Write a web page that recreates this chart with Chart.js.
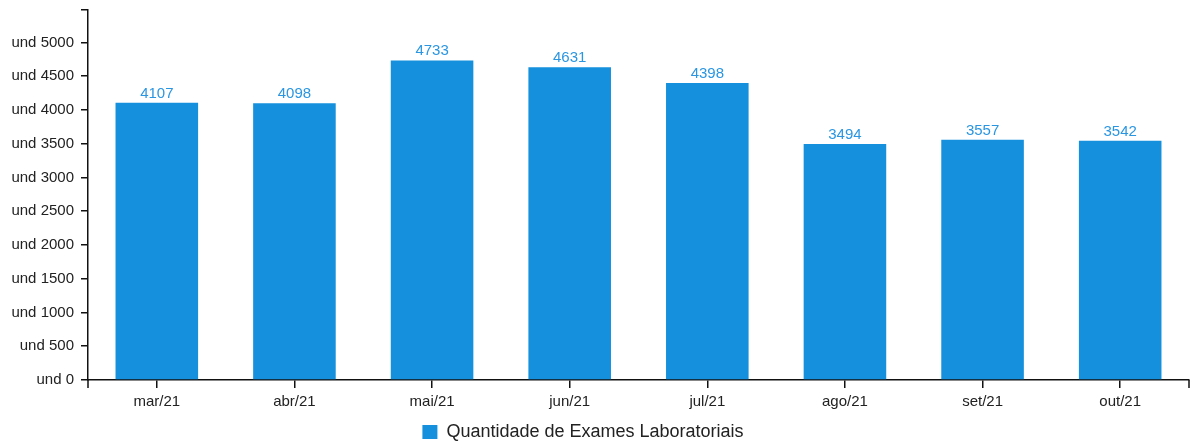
<!DOCTYPE html>
<html lang="pt">
<head>
<meta charset="utf-8">
<title>Quantidade de Exames Laboratoriais</title>
<script src="https://cdn.jsdelivr.net/npm/chart.js@4/dist/chart.umd.min.js"></script>
<style>
  html, body { margin: 0; padding: 0; background: #ffffff; }
  #wrap { width: 1192px; height: 445px; }
</style>
</head>
<body>
<div id="wrap"><canvas id="chart" width="1192" height="445"></canvas></div>
<script>
// Monthly counts of laboratory exams
const categories = ['mar/21', 'abr/21', 'mai/21', 'jun/21', 'jul/21', 'ago/21', 'set/21', 'out/21'];
const exames = [4107, 4098, 4733, 4631, 4398, 3494, 3557, 3542];
const seriesName = 'Quantidade de Exames Laboratoriais';

// Y axis: labelled ticks and the top of the scale
const yTickValues = [0, 500, 1000, 1500, 2000, 2500, 3000, 3500, 4000, 4500, 5000];
const yTickPrefix = 'und ';
const yMax = 5480;

const AXIS = '#111111';
const TEXT = '#222222';
const BAR = '#1590dc';
const LABEL = '#2a96e2';
const FONT = '"Liberation Sans", Arial, sans-serif';

// value labels above each bar
const valueLabels = {
  id: 'valueLabels',
  afterDatasetsDraw(chart) {
    const ctx = chart.ctx;
    const meta = chart.getDatasetMeta(0);
    const data = chart.data.datasets[0].data;
    ctx.save();
    ctx.font = '15px ' + FONT;
    ctx.fillStyle = LABEL;
    ctx.textAlign = 'center';
    ctx.textBaseline = 'alphabetic';
    meta.data.forEach((bar, i) => {
      ctx.fillText(String(data[i]), bar.x, bar.y - 5);
    });
    ctx.restore();
  }
};

// outer ticks at both ends of the category axis
const axisEnds = {
  id: 'axisEnds',
  afterDraw(chart) {
    const { ctx, chartArea } = chart;
    ctx.save();
    ctx.strokeStyle = AXIS;
    ctx.lineWidth = 1.5;
    ctx.beginPath();
    ctx.moveTo(chartArea.left, chartArea.bottom);
    ctx.lineTo(chartArea.left, chartArea.bottom + 8);
    ctx.moveTo(chartArea.right, chartArea.bottom);
    ctx.lineTo(chartArea.right, chartArea.bottom + 8);
    ctx.stroke();
    ctx.restore();
  }
};

// nudge the legend block to its place under the plot
const legendPlace = {
  id: 'legendPlace',
  afterLayout(chart) {
    const lg = chart.legend;
    if (!lg) return;
    const dx = -11.5, dy = 6;
    lg.left += dx; lg.right += dx;
    lg.top += dy; lg.bottom += dy;
  }
};

new Chart(document.getElementById('chart'), {
  type: 'bar',
  data: {
    labels: categories,
    datasets: [{
      label: seriesName,
      data: exames,
      backgroundColor: BAR,
      borderWidth: 0,
      categoryPercentage: 1.0,
      barPercentage: 0.6
    }]
  },
  options: {
    responsive: false,
    animation: false,
    devicePixelRatio: 1,
    layout: { padding: { top: 10, right: 3, left: 0, bottom: 0 } },
    plugins: {
      tooltip: { enabled: false },
      legend: {
        position: 'bottom',
        labels: {
          boxWidth: 15,
          boxHeight: 14,
          padding: 2,
          color: TEXT,
          font: { family: FONT, size: 18 }
        }
      }
    },
    scales: {
      x: {
        offset: true,
        grid: {
          display: true,
          offset: false,
          drawOnChartArea: false,
          drawTicks: true,
          tickLength: 8,
          color: AXIS,
          lineWidth: 1.5
        },
        border: { display: true, color: AXIS, width: 1.5 },
        ticks: {
          color: TEXT,
          padding: 5,
          maxRotation: 0,
          autoSkip: false,
          font: { family: FONT, size: 15 }
        },
        afterFit(scale) { scale.height = 35; }
      },
      y: {
        min: 0,
        max: yMax,
        afterBuildTicks(scale) {
          scale.ticks = yTickValues.concat([yMax]).map(v => ({ value: v }));
        },
        grid: {
          display: true,
          drawOnChartArea: false,
          drawTicks: true,
          tickLength: 7,
          color: AXIS,
          lineWidth: 1.5
        },
        border: { display: true, color: AXIS, width: 1.5 },
        ticks: {
          color: TEXT,
          padding: 7,
          font: { family: FONT, size: 15 },
          callback(value) {
            return yTickValues.includes(value) ? yTickPrefix + value : '';
          }
        },
        afterFit(scale) {
          scale.width = 88;
          scale.paddingTop = 0;
          scale.paddingBottom = 0;
        }
      }
    }
  },
  plugins: [valueLabels, axisEnds, legendPlace]
});
</script>
</body>
</html>
